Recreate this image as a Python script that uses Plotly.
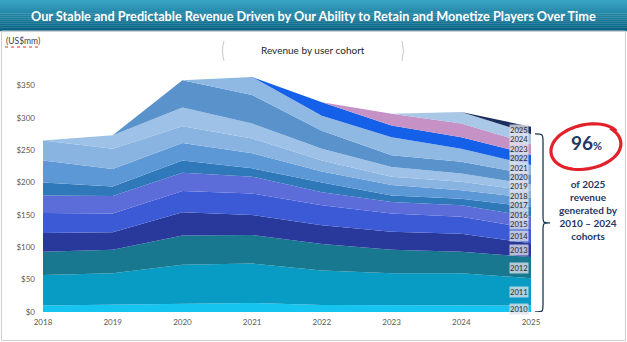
import numpy as np
import plotly.graph_objects as go

# ---------------------------------------------------------------- data
years = [2018, 2019, 2020, 2021, 2022, 2023, 2024, 2025]

# revenue (US$mm) by user cohort, one list per cohort year
rev_2010 = [10, 11, 13, 14, 11, 11, 10, 10]
rev_2011 = [47, 49, 60, 61, 53, 49, 50, 42]
rev_2012 = [36, 36, 45, 44, 41, 36, 33, 33]
rev_2013 = [29, 27, 36, 31, 29, 28, 28, 21]
rev_2014 = [31, 29, 33, 33, 31, 28, 26, 23]
rev_2015 = [27, 27, 28, 26, 20, 18, 18, 18]
rev_2016 = [20, 15, 19, 13, 15, 10, 10, 15]
rev_2017 = [34, 27, 27, 23, 17, 16, 13, 14]
rev_2018 = [31, 31, 26, 23, 17, 13, 13, 11]
rev_2019 = [0, 21, 29, 23, 18, 15, 13, 10]
rev_2020 = [0, 0, 42, 44, 28, 18, 18, 15]
rev_2021 = [0, 0, 0, 28, 23, 28, 20, 15]
rev_2022 = [0, 0, 0, 0, 21, 18, 18, 16]
rev_2023 = [0, 0, 0, 0, 0, 18, 21, 16]
rev_2024 = [0, 0, 0, 0, 0, 0, 18, 16]
rev_2025 = [0, 0, 0, 0, 0, 0, 0, 11]

cohort_labels = ["2010", "2011", "2012", "2013", "2014", "2015", "2016", "2017",
                 "2018", "2019", "2020", "2021", "2022", "2023", "2024", "2025"]
cohort_series = [rev_2010, rev_2011, rev_2012, rev_2013, rev_2014, rev_2015,
                 rev_2016, rev_2017, rev_2018, rev_2019, rev_2020, rev_2021,
                 rev_2022, rev_2023, rev_2024, rev_2025]

y_ticks = [0, 50, 100, 150, 200, 250, 300, 350]
y_tick_text = ["$0", "$50", "$100", "$150", "$200", "$250", "$300", "$350"]

share_text = "96"
note_lines = ["of 2025", "revenue", "generated by", "2010 \u2013 2024", "cohorts"]

# ---------------------------------------------------------------- style
colors = ["#16c4f0", "#089bc3", "#17788f", "#29399b", "#3c5ad6", "#5c6cd8",
          "#2f78b9", "#5c98d5", "#89b3e0", "#9dc1e7", "#5a92cb", "#8fb8e2",
          "#1560e8", "#c692c6", "#a9c7e7", "#1b2d5c"]

FONT = "Lato"
NAVY = "#1f3864"
W, H = 627, 342
L, R, T, B = 43, 96, 53, 30
Y_MAX = 400
LABEL_SIZE = 7.6
LABEL_GAP = 9.4   # minimum vertical distance between cohort labels, px


def pxx(px):
    return (px - L) / (W - L - R)


def pxy(py):
    return (H - B - py) / (H - T - B)


fig = go.Figure()

for name, vals, col in zip(cohort_labels, cohort_series, colors):
    fig.add_trace(go.Scatter(
        x=years, y=vals, name=name, stackgroup="rev", mode="lines",
        line=dict(width=0), fillcolor=col, hoverinfo="skip", showlegend=False))

shapes = []
annotations = []

# header banner with a vertical gradient
n_strips = 16
top_c = np.array([0x3a, 0xa3, 0xc4])
bot_c = np.array([0x08, 0x62, 0x82])
for i in range(n_strips):
    f = i / (n_strips - 1)
    c = (top_c * (1 - f) + bot_c * f).astype(int)
    y0 = 31 * i / n_strips
    y1 = 31 * (i + 1) / n_strips + 0.3
    shapes.append(dict(type="rect", xref="paper", yref="paper",
                       x0=pxx(0), x1=pxx(W), y0=pxy(y1), y1=pxy(y0),
                       fillcolor="rgb(%d,%d,%d)" % tuple(c), line=dict(width=0),
                       layer="below"))

# light frame around the chart body
shapes.append(dict(type="rect", xref="paper", yref="paper",
                   x0=pxx(1.5), x1=pxx(625.5), y0=pxy(340.5), y1=pxy(31),
                   line=dict(color="#cfcfcf", width=1), layer="below"))

annotations.append(dict(
    x=pxx(313.5), y=pxy(16), xref="paper", yref="paper", showarrow=False,
    text="<b>Our Stable and Predictable Revenue Driven by Our Ability to Retain and Monetize Players Over Time</b>",
    font=dict(family=FONT, size=12.7, color="white"), xanchor="center", yanchor="middle"))

annotations.append(dict(
    x=pxx(4), y=pxy(41), xref="paper", yref="paper", showarrow=False,
    text="(US$mm)", font=dict(family=FONT, size=8.5, color="#404040"),
    xanchor="left", yanchor="middle"))
# spell-check squiggle under the unit label
shapes.append(dict(type="line", xref="paper", yref="paper",
                   x0=pxx(5), x1=pxx(38), y0=pxy(47), y1=pxy(47),
                   line=dict(color="#e03030", width=1, dash="dot")))

annotations.append(dict(
    x=pxx(313), y=pxy(50), xref="paper", yref="paper", showarrow=False,
    text="Revenue by user cohort", font=dict(family=FONT, size=10, color="#262626"),
    xanchor="center", yanchor="middle"))
# thin brackets around the subtitle
for xa, sgn in ((222, 1), (404, -1)):
    p = "M %f,%f Q %f,%f %f,%f" % (pxx(xa + 2 * sgn), pxy(41), pxx(xa - 1 * sgn), pxy(51),
                                   pxx(xa + 2 * sgn), pxy(61))
    shapes.append(dict(type="path", xref="paper", yref="paper", path=p,
                       line=dict(color="#c8c8c8", width=1)))

# cohort labels at the right edge, centred on each band in 2025,
# then spread apart a little where the bands are too thin
cum = 0.0
band_tops = []
mids = []
for vals in cohort_series:
    v = vals[-1]
    mids.append(cum + v / 2)
    cum += v
    band_tops.append(cum)

px_per_unit = (H - T - B) / Y_MAX
pos = np.array([m * px_per_unit for m in mids])   # px above the baseline
target = pos.copy()
for _ in range(200):
    for i in range(len(pos) - 1):
        gap = pos[i + 1] - pos[i]
        if gap < LABEL_GAP:
            push = (LABEL_GAP - gap) / 2
            pos[i] -= push
            pos[i + 1] += push
    pos[0] = max(pos[0], target[0])

for name, mid, p, t in zip(cohort_labels, mids, pos, target):
    annotations.append(dict(
        x=years[-1], y=mid, xref="x", yref="y", showarrow=False, text=name,
        font=dict(family=FONT, size=LABEL_SIZE, color="#2b2b2b"),
        xanchor="right", yanchor="middle", xshift=-2, yshift=float(p - t),
        bgcolor="rgba(222,226,236,0.78)", borderpad=0))

# curly brace covering the 2010-2024 cohorts
y_lo, y_hi = 0, band_tops[-2]
y_mid = (y_lo + y_hi) / 2
xb0, xb1, xb2 = pxx(535), pxx(543), pxx(550)
d = 12
brace = ("M {a},{top} C {b},{top} {b},{top} {b},{t2} L {b},{m1} "
         "C {b},{mid} {b},{mid} {c},{mid} C {b},{mid} {b},{mid} {b},{m2} "
         "L {b},{b2} C {b},{bot} {b},{bot} {a},{bot}").format(
    a=xb0, b=xb1, c=xb2, top=y_hi, t2=y_hi - d, m1=y_mid + d, mid=y_mid,
    m2=y_mid - d, b2=y_lo + d, bot=y_lo)
shapes.append(dict(type="path", xref="paper", yref="y", path=brace,
                   line=dict(color="#1d3a55", width=1.3)))

# hand-drawn red loop round the share figure
th = np.linspace(np.radians(-35), np.radians(-35 + 372), 60)
rot = np.radians(-12)
rx = 36 + 1.5 * np.sin(th * 1.5)
ry = 22 + 1.0 * np.cos(th)
ex = rx * np.cos(th)
ey = ry * np.sin(th)
cx, cy = 585, 147
px_pts = cx + ex * np.cos(rot) - ey * np.sin(rot)
py_pts = cy + ex * np.sin(rot) + ey * np.cos(rot)
loop = "M " + " L ".join("%f,%f" % (pxx(a), pxy(b)) for a, b in zip(px_pts, py_pts))
shapes.append(dict(type="path", xref="paper", yref="paper", path=loop,
                   line=dict(color="#e3212b", width=3.2)))

annotations.append(dict(
    x=pxx(586), y=pxy(142), xref="paper", yref="paper", showarrow=False,
    text="<b>%s<span style='font-size:11px'>%%</span></b>" % share_text,
    font=dict(family=FONT, size=19, color=NAVY), xanchor="center", yanchor="middle"))

annotations.append(dict(
    x=pxx(588), y=pxy(210), xref="paper", yref="paper", showarrow=False,
    text="<br>".join("<b>%s</b>" % s for s in note_lines),
    font=dict(family=FONT, size=10, color=NAVY), xanchor="center", yanchor="middle",
    align="center"))

fig.update_layout(
    width=W, height=H,
    margin=dict(l=L, r=R, t=T, b=B, pad=0),
    paper_bgcolor="white", plot_bgcolor="white",
    xaxis=dict(range=[years[0], years[-1]], tickvals=years,
               ticktext=[str(y) for y in years], showgrid=False, zeroline=False,
               showline=False, ticks="", tickfont=dict(family=FONT, size=8, color="#595959"),
               ticklabelstandoff=4, fixedrange=True),
    yaxis=dict(range=[0, Y_MAX], tickvals=y_ticks, ticktext=y_tick_text,
               showgrid=False, zeroline=False, showline=False, ticks="",
               tickfont=dict(family=FONT, size=8, color="#595959"),
               ticklabelstandoff=7, fixedrange=True),
    shapes=shapes, annotations=annotations, showlegend=False,
)

fig.write_html("out.html")
